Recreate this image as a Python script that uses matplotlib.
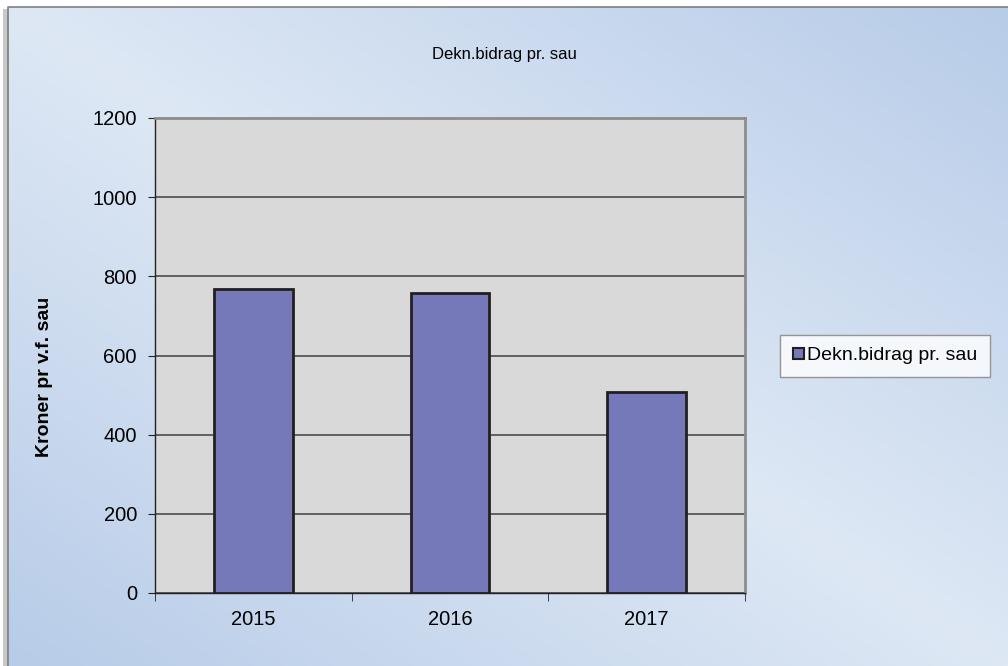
import numpy as np
import matplotlib
matplotlib.use("Agg")
from matplotlib import pyplot as plt
from matplotlib.patches import Rectangle

years = ["2015", "2016", "2017"]
values = [768, 758, 508]
series_name = "Dekn.bidrag pr. sau"
title = "Dekn.bidrag pr. sau"
y_label = "Kroner pr v.f. sau"
y_ticks = [0, 200, 400, 600, 800, 1000, 1200]

plt.rcParams["font.family"] = ["Liberation Sans", "DejaVu Sans"]

fig = plt.figure(figsize=(10.08, 6.66), dpi=100)

# gradient background with a frame (chart area)
bg = fig.add_axes([0, 0, 1, 1], zorder=-10)
bg.set_xlim(0, 1008)
bg.set_ylim(666, 0)
bg.axis("off")
gx, gy = np.meshgrid(np.linspace(0, 1, 200), np.linspace(0, 1, 200))
t = np.abs(gx - gy)
light = np.array([0.87, 0.91, 0.96])
dark = np.array([0.72, 0.80, 0.91])
img = light[None, None, :] * (1 - t[..., None]) + dark[None, None, :] * t[..., None]
bg.imshow(img, extent=(8, 1008, 666, 7), aspect="auto", zorder=0)
bg.add_patch(Rectangle((3, 9), 6, 660, color="#c8c8c8", zorder=1, lw=0))
bg.plot([8, 8, 1008], [666, 7, 7], color="#7f7f7f", lw=1.2, zorder=2)

ax = fig.add_axes([155 / 1008, 1 - 593 / 666, 590 / 1008, 475 / 666])
ax.set_facecolor("#d9d9d9")
x = np.arange(len(years))
ax.bar(x, values, width=0.4, color="#7679b9", edgecolor="#231f20",
       linewidth=2, label=series_name, zorder=3)

ax.set_xlim(-0.5, 2.5)
ax.set_ylim(0, 1200)
ax.set_yticks(y_ticks)
ax.yaxis.grid(True, color="#404040", linewidth=1.1)
ax.set_axisbelow(True)

ax.set_xticks(x)
ax.set_xticklabels(years, fontsize=14.5)
ax.set_xticks([-0.5, 0.5, 1.5, 2.5], minor=True)
ax.tick_params(axis="x", which="major", length=0, pad=12)
ax.tick_params(axis="x", which="minor", length=6, color="#222222", direction="out")
ax.tick_params(axis="y", length=5, color="#222222", labelsize=14.5, pad=8)

for s in ["top", "right"]:
    ax.spines[s].set_color("#8c8c8c")
    ax.spines[s].set_linewidth(2)
for s in ["left", "bottom"]:
    ax.spines[s].set_color("#222222")
    ax.spines[s].set_linewidth(1)

fig.text(45 / 1008, 1 - 377 / 666, y_label, rotation=90, ha="center", va="center",
         fontsize=14, fontweight="bold")
fig.text(504 / 1008, 1 - 55 / 666, title, ha="center", va="center", fontsize=12)

leg = fig.legend(loc="center", bbox_to_anchor=(885 / 1008, 1 - 356 / 666),
                 fontsize=14, frameon=True, fancybox=False, handlelength=0.55,
                 handleheight=0.55, handletextpad=0.15, borderpad=0.65)
leg.get_frame().set_edgecolor("#808080")
leg.get_frame().set_linewidth(1)
for h in leg.legend_handles:
    h.set_linewidth(1.5)

fig.savefig("out.png", dpi=100)
